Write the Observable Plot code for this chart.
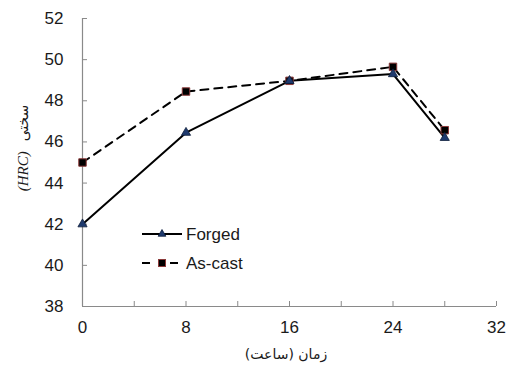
<!DOCTYPE html>
<html><head><meta charset="utf-8">
<script src="https://cdn.jsdelivr.net/npm/d3@7"></script>
<script src="https://cdn.jsdelivr.net/npm/@observablehq/plot@0.6"></script>
<style>
body{margin:0;background:#fff;}
#wrap{position:relative;width:509px;height:371px;font-family:"Liberation Sans",Arial,sans-serif;}
#legend{position:absolute;left:140px;top:222px;}
</style>
</head><body>
<div id="wrap"></div>
<script>
const hours = [0, 8, 16, 24, 28];
const forged = [42, 46.45, 48.97, 49.3, 46.2];
const asCast = [45, 48.45, 48.97, 49.65, 46.57];
const xTicks = [0, 8, 16, 24, 32];
const xMinor = [4, 12, 20, 28];
const yTicks = [38, 40, 42, 44, 46, 48, 50, 52];
const seriesNames = ["Forged", "As-cast"];
const xLabel = "زمان (ساعت)";
const yLabelFa = "سختی";
const yLabelUnit = "(HRC)";

const fData = hours.map((h, i) => ({h, v: forged[i]}));
const cData = hours.map((h, i) => ({h, v: asCast[i]}));
const axisColor = "#8a8a8a";

const chart = Plot.plot({
  width: 509, height: 371,
  marginLeft: 82, marginRight: 13, marginTop: 18, marginBottom: 65,
  style: {fontFamily: "Liberation Sans, Arial, sans-serif", fontSize: "17px", color: "#222", background: "#fff"},
  x: {domain: [0, 32], label: null},
  y: {domain: [38, 52], label: null},
  marks: [
    Plot.ruleX([0], {stroke: axisColor, strokeWidth: 1.2}),
    Plot.ruleY([38], {stroke: axisColor, strokeWidth: 1.2}),
    Plot.axisY({ticks: yTicks, tickSize: -5, tickPadding: 24, stroke: axisColor, fill: "#1a1a1a", fontSize: 17}),
    Plot.axisX({ticks: xTicks, tickSize: -5, tickPadding: 19, stroke: axisColor, fill: "#1a1a1a", fontSize: 17}),
    Plot.axisX({ticks: xMinor, tickSize: -5, tickFormat: () => "", stroke: axisColor}),
    Plot.line(cData, {x: "h", y: "v", stroke: "#000", strokeWidth: 2, strokeDasharray: "8,6"}),
    Plot.line(fData, {x: "h", y: "v", stroke: "#000", strokeWidth: 2}),
    Plot.dot(cData, {x: "h", y: "v", symbol: "square", r: 4.2, fill: "#000", stroke: "#8b3a3a", strokeWidth: 1}),
    Plot.dot(fData, {x: "h", y: "v", symbol: "triangle", r: 3.4, fill: "#1f3a6e", stroke: "#0d1d3a", strokeWidth: 0.8})
  ]
});

const svg = d3.select(chart);
svg.append("text")
  .attr("x", 286).attr("y", 359)
  .attr("text-anchor", "middle")
  .attr("font-family", "DejaVu Sans, sans-serif")
  .attr("font-size", 14).attr("fill", "#1a1a1a")
  .text(xLabel);
const yl = svg.append("text")
  .attr("transform", "translate(28,148) rotate(-90)")
  .attr("text-anchor", "middle")
  .attr("font-size", 15).attr("fill", "#1a1a1a");
yl.append("tspan").attr("font-family", "Liberation Serif, serif").attr("font-style", "italic").text(yLabelUnit);
yl.append("tspan").attr("font-family", "DejaVu Sans, sans-serif").attr("font-size", 14).attr("dx", 10).text(yLabelFa);

document.getElementById("wrap").appendChild(chart);

const leg = d3.select("#wrap").append("svg").attr("id", "legend").attr("width", 130).attr("height", 60);
const styles = [
  {dash: null, sym: "triangle", fill: "#1f3a6e", stroke: "#0d1d3a", x2: 42},
  {dash: "8,20", sym: "square", fill: "#000", stroke: "#8b3a3a", x2: 39}
];
seriesNames.forEach((name, i) => {
  const y = 12 + i * 29;
  const g = leg.append("g");
  g.append("line").attr("x1", 2).attr("x2", styles[i].x2).attr("y1", y).attr("y2", y)
    .attr("stroke", "#000").attr("stroke-width", 2)
    .attr("stroke-dasharray", styles[i].dash);
  if (styles[i].sym === "triangle") {
    g.append("path").attr("d", d3.symbol(d3.symbolTriangle, 26)()).attr("transform", `translate(22,${y})`)
      .attr("fill", styles[i].fill).attr("stroke", styles[i].stroke).attr("stroke-width", 0.8);
  } else {
    g.append("rect").attr("x", 18.5).attr("y", y - 3.5).attr("width", 7).attr("height", 7)
      .attr("fill", styles[i].fill).attr("stroke", styles[i].stroke).attr("stroke-width", 1);
  }
  g.append("text").attr("x", 46).attr("y", y + 6).attr("font-size", 17).attr("fill", "#1a1a1a")
    .attr("font-family", "Liberation Sans, Arial, sans-serif").text(name);
});
</script>
</body></html>
